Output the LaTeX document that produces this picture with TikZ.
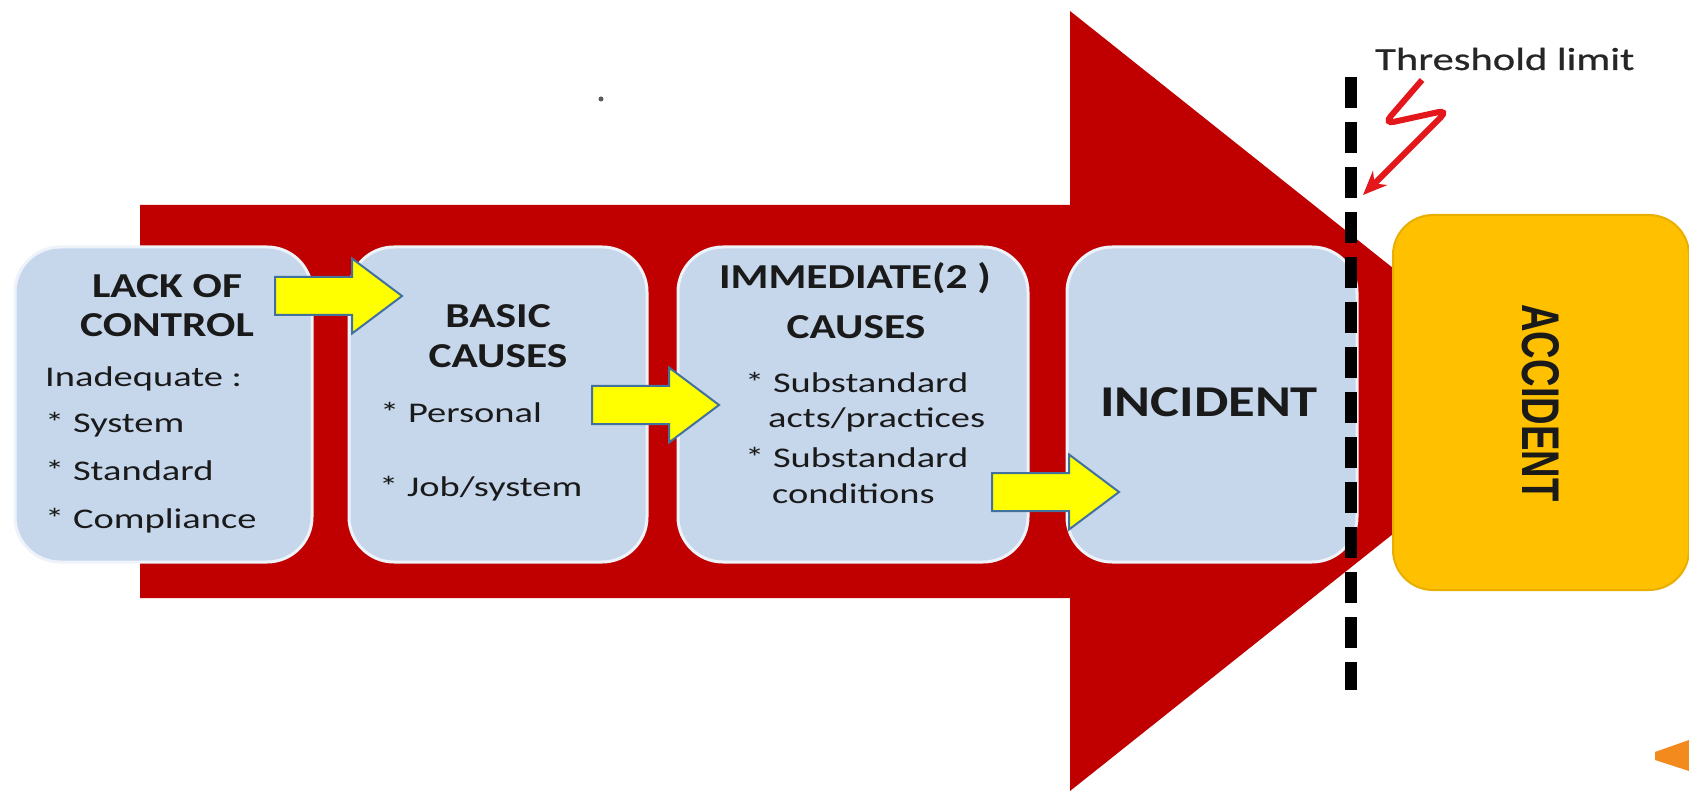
\documentclass[tikz,border=0pt]{standalone}
\usepackage{fontspec}
\setmainfont{Carlito}
\newfontfamily\regf{Carlito}[FakeStretch=1.35]
\newfontfamily\boldf{Carlito}[FakeStretch=1.24]
\newfontfamily\thrf{Carlito}[FakeStretch=1.33, FakeBold=0.6]
\newfontfamily\accf{Liberation Sans}[FakeStretch=0.72]
\usetikzlibrary{arrows.meta}
\definecolor{redarrow}{HTML}{C00000}
\definecolor{boxblue}{HTML}{C6D7EC}
\definecolor{boxedge}{HTML}{EEF3FA}
\definecolor{accfill}{HTML}{FFC000}
\definecolor{accedge}{HTML}{E8AE00}
\definecolor{yfill}{HTML}{FFFF00}
\definecolor{yedge}{HTML}{41719C}
\definecolor{txt}{HTML}{1A1A1A}
\definecolor{thr}{HTML}{262626}
\definecolor{squig}{HTML}{E3171C}
\definecolor{orangebit}{HTML}{F28A1E}
\begin{document}
\begin{tikzpicture}[x=1pt,y=-1pt,
  cbox/.style={draw=boxedge, line width=3pt, fill=boxblue, rounded corners=45pt, inner sep=0pt},
  accbox/.style={draw=accedge, line width=2pt, fill=accfill, rounded corners=40pt, inner sep=0pt},
  head/.style={inner sep=0pt, anchor=base, text=txt, font=\boldf\bfseries\fontsize{35}{35}\selectfont},
  item/.style={inner sep=0pt, anchor=base west, text=txt, font=\regf\fontsize{28.5}{28.5}\selectfont},
  yarrowline/.style={fill=yfill, draw=yedge, line width=2pt, line join=miter},
  yarrow/.pic={\path[yarrowline] (0,-19) -- (77,-19) -- (77,-37.5) -- (127,0) -- (77,37.5) -- (77,19) -- (0,19) -- cycle;},
  thresh/.style={line width=12pt, dash pattern=on 31pt off 14pt},
  squiggle/.style={draw=squig, line width=6pt, rounded corners=10pt, -{Stealth[length=24pt,width=20pt]}}
]
\useasboundingbox (0,0) rectangle (1689,791);
% big red arrow
\fill[redarrow] (140,205) -- (1070,205) -- (1070,11) -- (1560,401) -- (1070,791) -- (1070,598) -- (140,598) -- cycle;
% boxes
\node[cbox, minimum width=297pt, minimum height=315pt] (lack) at (163.5,404.5) {};
\node[cbox, minimum width=298pt, minimum height=315pt] (basic) at (498,404.5) {};
\node[cbox, minimum width=350pt, minimum height=315pt] (immed) at (853,404.5) {};
\node[cbox, minimum width=290pt, minimum height=315pt] (incid) at (1212,404.5) {};
% yellow block arrows
\pic at (275,296) {yarrow};
\pic at (592,405) {yarrow};
\pic at (992,492) {yarrow};
% threshold line
\coordinate (dtop) at (1351,77);
\coordinate (dbot) at (1351,690);
\draw[thresh] (dtop) -- (dbot);
% accident box
\node[accbox, minimum width=296pt, minimum height=375pt] (accid) at (1541,402.5) {};
% texts
\node[head] (lackA) at (167,298) {LACK OF};
\node[head] (lackB) at (167,337) {CONTROL};
\node[item] (lackC) at (45,387) {Inadequate :};
\node[item] (lackD) at (45,432) {* System};
\node[item] (lackE) at (45,480) {* Standard};
\node[item] (lackF) at (45,528) {* Compliance};
\node[head] (basicA) at (498,328) {BASIC};
\node[head] (basicB) at (498,367) {CAUSES};
\node[item] (basicC) at (380,422) {* Personal};
\node[item] (basicD) at (379,496) {* Job/system};
\node[head] (immA) at (855,289) {IMMEDIATE(2 )};
\node[head] (immB) at (856,339) {CAUSES};
\node[item] (immC) at (745,392) {* Substandard};
\node[item] (immD) at (768,428) {acts/practices};
\node[item] (immE) at (745,467) {* Substandard};
\node[item] (immF) at (772,503) {conditions};
\node[head, font=\boldf\bfseries\fontsize{44}{44}\selectfont] (incT) at (1209,416) {INCIDENT};
\node[rotate=-90, inner sep=0pt, text=txt, font=\accf\bfseries\fontsize{53}{53}\selectfont] (accT) at (1541,403) {ACCIDENT};
\node[inner sep=0pt, anchor=base west, text=thr, font=\thrf\fontsize{32}{32}\selectfont] (thrT) at (1375,70) {Threshold limit};
% red squiggle arrow
\coordinate (sq0) at (1422,80);
\coordinate (sq1) at (1384,124);
\coordinate (sq2) at (1448,110);
\coordinate (sq3) at (1363,195);
\draw[squiggle] (sq0) -- (sq1) -- (sq2) -- (sq3);
% small dot and orange fragment
\fill[gray!70!black] (601,99) circle (2.5pt);
\fill[orangebit] (1655,752) -- (1689,740) -- (1689,771) -- (1655,760) -- cycle;
\end{tikzpicture}
\end{document}
